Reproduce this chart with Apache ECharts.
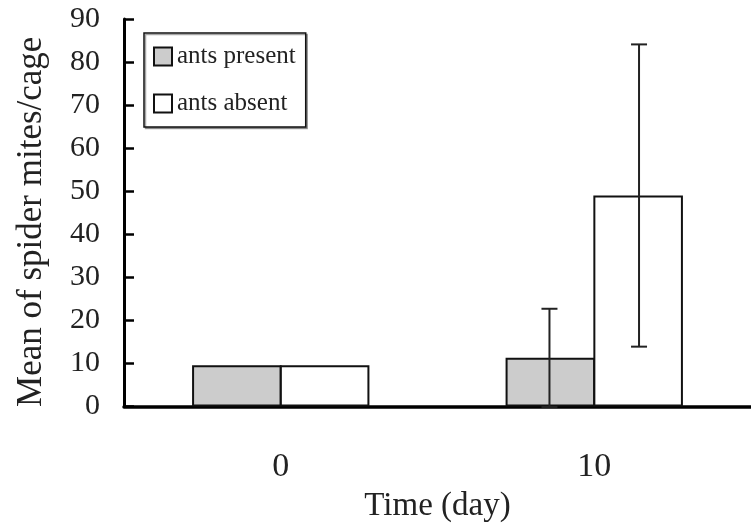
<!DOCTYPE html>
<html>
<head>
<meta charset="utf-8">
<script src="https://cdn.jsdelivr.net/npm/echarts@6/dist/echarts.min.js"></script>
<style>html,body{margin:0;padding:0;background:#fff;}#main{width:751px;height:530px;}</style>
</head>
<body>
<div id="main"></div>
<script>
var categories = ['0', '10'];
var antsPresent = [9.6, 11.3];
var antsAbsent = [9.6, 49.0];
var antsPresentErr = [0, 11.4];
var antsAbsentErr = [0, 35.1];
var yTicks = [0, 10, 20, 30, 40, 50, 60, 70, 80, 90];

var FONT = '"Liberation Serif", "DejaVu Serif", serif';
var BAR_W = 0.2857;

function errData(vals, errs) {
  var out = [];
  for (var i = 0; i < vals.length; i++) {
    if (errs[i] > 0) out.push([i, vals[i] - errs[i], vals[i] + errs[i]]);
  }
  return out;
}

function makeErr(sign) {
  return function (params, api) {
    var bw = api.size([1, 0])[0];
    var off = sign * bw * BAR_W / 2;
    var lo = api.coord([api.value(0), api.value(1)]);
    var hi = api.coord([api.value(0), api.value(2)]);
    var x = lo[0] + off;
    var cap = 8;
    var st = { stroke: '#222', lineWidth: 2 };
    return {
      type: 'group',
      children: [
        { type: 'line', shape: { x1: x, y1: lo[1], x2: x, y2: hi[1] }, style: st },
        { type: 'line', shape: { x1: x - cap, y1: hi[1], x2: x + cap, y2: hi[1] }, style: st },
        { type: 'line', shape: { x1: x - cap, y1: lo[1], x2: x + cap, y2: lo[1] }, style: st }
      ]
    };
  };
}

var chart = echarts.init(document.getElementById('main'), null, { renderer: 'canvas' });
chart.setOption({
  animation: false,
  backgroundColor: '#fff',
  grid: { left: 124, right: -3, top: 19, bottom: 123.5, containLabel: false },
  legend: {
    orient: 'vertical',
    left: 144,
    top: 33,
    padding: [11, 10, 11, 9],
    itemGap: 22,
    itemWidth: 18,
    itemHeight: 18,
    borderColor: '#111',
    borderWidth: 1.5,
    shadowColor: 'rgba(0,0,0,0.35)',
    shadowOffsetX: 1.5,
    shadowOffsetY: 1.5,
    shadowBlur: 0,
    backgroundColor: '#fff',
    textStyle: { fontFamily: FONT, fontSize: 25, color: '#222' },
    data: [
      { name: 'ants present', icon: 'rect' },
      { name: 'ants absent', icon: 'rect' }
    ]
  },
  xAxis: {
    type: 'category',
    data: categories,
    name: 'Time (day)',
    nameLocation: 'middle',
    nameGap: 74,
    nameTextStyle: { fontFamily: FONT, fontSize: 33, color: '#222' },
    axisLine: { lineStyle: { color: '#000', width: 3.5 } },
    axisTick: { inside: true, length: 10, lineStyle: { color: '#000', width: 2.5 } },
    axisLabel: { fontFamily: FONT, fontSize: 34, color: '#222', margin: 44 },
    splitLine: { show: false }
  },
  yAxis: {
    type: 'value',
    min: 0,
    max: 90,
    interval: 10,
    name: 'Mean of spider mites/cage',
    nameLocation: 'middle',
    nameGap: 75,
    nameTextStyle: { fontFamily: FONT, fontSize: 35, color: '#222', padding: [0, 18, 0, 0] },
    axisLine: { show: true, lineStyle: { color: '#000', width: 3 } },
    axisTick: { show: true, inside: true, length: 10, lineStyle: { color: '#000', width: 2.5 } },
    axisLabel: {
      fontFamily: FONT, fontSize: 30, color: '#222', margin: 24,
      formatter: function (v) { return yTicks.indexOf(v) >= 0 ? String(v) : ''; }
    },
    splitLine: { show: false }
  },
  series: [
    {
      name: 'ants present',
      type: 'bar',
      data: antsPresent,
      barWidth: '28.57%',
      barGap: '-2%',
      itemStyle: { color: '#cccccc', borderColor: '#111', borderWidth: 2 }
    },
    {
      name: 'ants absent',
      type: 'bar',
      data: antsAbsent,
      barWidth: '28.57%',
      barGap: '-2%',
      itemStyle: { color: '#ffffff', borderColor: '#111', borderWidth: 2 }
    },
    {
      name: 'errPresent',
      type: 'custom',
      data: errData(antsPresent, antsPresentErr),
      encode: { x: 0, y: [1, 2] },
      renderItem: makeErr(-1),
      z: 10
    },
    {
      name: 'errAbsent',
      type: 'custom',
      data: errData(antsAbsent, antsAbsentErr),
      encode: { x: 0, y: [1, 2] },
      renderItem: makeErr(1),
      z: 10
    }
  ]
});
</script>
</body>
</html>
